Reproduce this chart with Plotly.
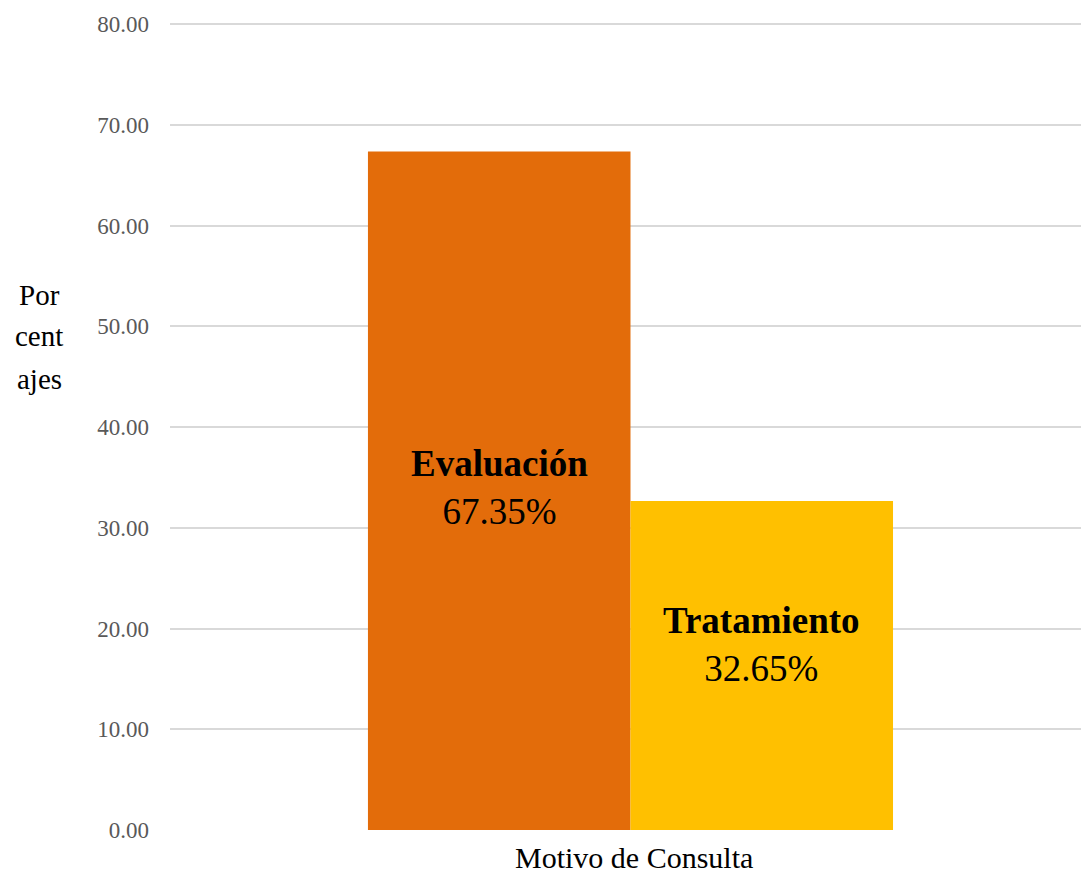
import plotly.graph_objects as go

category = "Motivo de Consulta"
series_names = ["Evaluación", "Tratamiento"]
series_values = [67.35, 32.65]
series_colors = ["#E36C0A", "#FFC000"]
bar_positions = [-0.5, 0.5]
label_yshift = [3, 21]
tick_values = [0, 10, 20, 30, 40, 50, 60, 70, 80]
tick_labels = ["0.00", "10.00", "20.00", "30.00", "40.00", "50.00", "60.00", "70.00", "80.00"]

fig = go.Figure()
annotations = []
for name, val, col, xp, ys in zip(series_names, series_values, series_colors, bar_positions, label_yshift):
    fig.add_trace(go.Bar(
        x=[xp], y=[val], name=name, width=[1.0],
        marker=dict(color=col, line=dict(width=0)),
        hoverinfo="skip",
    ))
    annotations.append(dict(
        x=xp, y=val / 2, xref="x", yref="y", yshift=ys,
        text=f"<b>{name}</b><br>{val:.2f}%", showarrow=False,
        font=dict(family="Liberation Serif", size=37, color="black"),
        align="center", xanchor="center", yanchor="middle",
    ))

TOP, BOT = 23, 47
plot_w = 1081 - 170
plot_h = 877 - TOP - BOT

def px_to_paper(px, py):
    return (px - 170) / plot_w, (877 - BOT - py) / plot_h

for line, py in zip(["Por", "cent", "ajes"], [295, 336, 379]):
    xp_, yp_ = px_to_paper(39, py)
    annotations.append(dict(text=line, x=xp_, y=yp_, xref="paper", yref="paper",
                            xanchor="center", yanchor="middle", showarrow=False,
                            font=dict(family="Liberation Serif", size=29, color="black")))

xt, yt = px_to_paper(634, 857)
annotations.append(dict(text=category, x=xt, y=yt, xref="paper", yref="paper",
                        xanchor="center", yanchor="middle", showarrow=False, borderpad=0,
                        font=dict(family="Liberation Serif", size=30, color="black")))

fig.update_layout(
    width=1081, height=877,
    margin=dict(l=170, r=0, t=TOP, b=BOT),
    paper_bgcolor="white", plot_bgcolor="white",
    barmode="overlay",
    showlegend=False,
    xaxis=dict(range=[-1.754, 1.716], showticklabels=False, showline=False,
               showgrid=False, zeroline=False, fixedrange=True, ticks=""),
    yaxis=dict(range=[0, 80.1], tickvals=tick_values, ticktext=tick_labels,
               tickfont=dict(family="Liberation Serif", size=23, color="#595959"),
               showgrid=True, gridcolor="#d9d9d9", gridwidth=2,
               zeroline=False, showline=False, ticks="", ticklabelstandoff=20,
               fixedrange=True),
    annotations=annotations,
)

fig.write_html("out.html")
